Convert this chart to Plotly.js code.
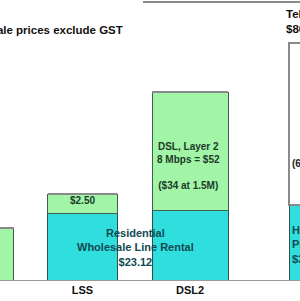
<!DOCTYPE html>
<html><head><meta charset="utf-8">
<script src="https://cdn.plot.ly/plotly-3.0.1.min.js"></script>
<style>html,body{margin:0;padding:0;background:#fff;}#chart{width:300px;height:301px;}</style>
</head><body><div id="chart"></div>
<script>
// Data (bar heights on a common scale where the LSS line rental = 23.12)
const categories = ["ULL", "LSS", "DSL2", "Telstra"];
const lineRental = [0, 23.12, 24.5, 26.3];
const dataService = [18.2, 7.0, 41.3, 0];
const retailTop = [0, 0, 0, 56.7];
const tickLabels = ["LSS", "DSL2", "Telstra"];

const widths = [0.72, 0.642, 0.707, 0.70];
const offsets = [-0.36, -0.321, -0.353, -0.079];
const font = {family: "Liberation Sans, Arial, sans-serif", size: 11, color: "#111", weight: "bold"};
const b = s => "<b>" + s.split("<br>").join("</b><br><b>") + "</b>";

const traces = [
  {type: "bar", x: categories, y: lineRental, width: widths, offset: offsets,
   marker: {color: "#30dede", line: {color: "#2f4f48", width: 1}}, hoverinfo: "none"},
  {type: "bar", x: categories, y: dataService, width: widths, offset: offsets,
   marker: {color: "#a2f5a6", line: {color: "#3f5f4f", width: 1}}, hoverinfo: "none"},
  {type: "bar", x: categories, y: retailTop, width: widths, offset: offsets,
   marker: {color: "#ffffff", line: {color: "#8a8a8a", width: 1.5}}, hoverinfo: "none"}
];

const layout = {
  width: 300, height: 301,
  margin: {l: 0, r: 0, t: 0, b: 21, pad: 0},
  paper_bgcolor: "#fff", plot_bgcolor: "#fff",
  barmode: "stack", showlegend: false,
  xaxis: {type: "category", range: [0.2326, 3.0233], showgrid: false, zeroline: false,
          showline: true, linecolor: "#9a9a9a", linewidth: 1, ticks: "",
          tickmode: "array", tickvals: [1, 2, 3.1], ticktext: tickLabels.map(b),
          tickfont: font, fixedrange: true},
  yaxis: {range: [0, 98.07], visible: false, fixedrange: true},
  shapes: [
    {type: "line", xref: "paper", yref: "paper", x0: 143/300, x1: 1, y0: 1 - 2/280, y1: 1 - 2/280,
     line: {color: "#8a8a8a", width: 2}}
  ],
  annotations: [
    {xref: "paper", yref: "paper", x: 125/300, y: 1 - 30/280, xanchor: "right", yanchor: "middle",
     text: b("Wholesale prices exclude GST"), showarrow: false, font: {...font, size: 11.5, color: "#111"}},
    {xref: "paper", yref: "paper", x: 284/300, y: 1 - 22/280, xanchor: "left", yanchor: "middle",
     text: b("Telstra<br>$80"), showarrow: false, align: "left", font: {...font, size: 11.5, color: "#111"}},
    {xref: "paper", yref: "paper", x: 82.5/300, y: 1 - 200/280, xanchor: "center", yanchor: "middle",
     text: b("$2.50"), showarrow: false, font: {...font, size: 10, color: "#1c3a2a"}},
    {xref: "paper", yref: "paper", x: 135/300, y: 1 - 247/280, xanchor: "center", yanchor: "middle",
     text: b("Residential<br>Wholesale Line Rental<br>$23.12"), showarrow: false,
     font: {...font, size: 11, color: "#0f4a52"}},
    {xref: "paper", yref: "paper", x: 188/300, y: 1 - 166/280, xanchor: "center", yanchor: "middle",
     text: b("DSL, Layer 2<br>8 Mbps = $52<br> <br>($34 at 1.5M)"), showarrow: false,
     font: {...font, size: 10, color: "#1c3a2a"}},
    {xref: "paper", yref: "paper", x: 290/300, y: 1 - 163/280, xanchor: "left", yanchor: "middle",
     text: b("(60GB)"), showarrow: false, font: {...font, size: 10, color: "#222"}},
    {xref: "paper", yref: "paper", x: 290/300, y: 1 - 244/280, xanchor: "left", yanchor: "middle", align: "left",
     text: b("Home<br>Phone<br>$30"), showarrow: false, font: {...font, size: 11, color: "#0f4a52"}}
  ]
};

Plotly.newPlot("chart", traces, layout, {staticPlot: true, displayModeBar: false});
</script></body></html>
